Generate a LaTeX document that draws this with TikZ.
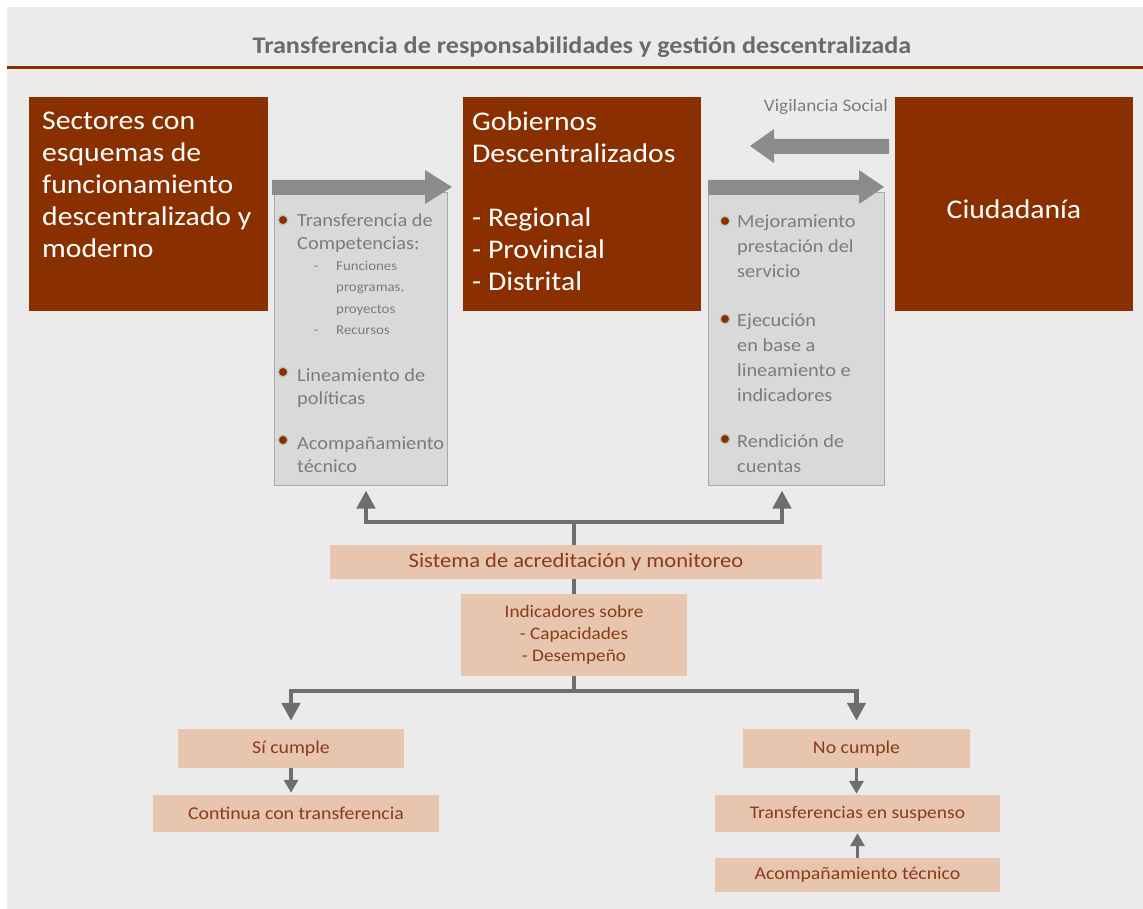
\documentclass[tikz,border=0pt]{standalone}
\usepackage{fontspec}
\setmainfont[FakeStretch=1.1]{Carlito}
\newfontfamily\titlefont[FakeStretch=1.1]{Carlito}
\usetikzlibrary{arrows.meta}
\definecolor{brn}{HTML}{8A2F00}
\definecolor{peach}{HTML}{E8C5AE}
\definecolor{peachtxt}{HTML}{8B3A1A}
\definecolor{bgc}{HTML}{EBEBEB}
\definecolor{gbox}{HTML}{D9D9D9}
\definecolor{gboxline}{HTML}{A8A8A8}
\definecolor{garrow}{HTML}{8C8C8C}
\definecolor{conncol}{HTML}{6E6E6E}
\definecolor{gtxt}{HTML}{7C7C7C}
\definecolor{titlecol}{HTML}{6A6A6A}
\tikzset{
  brownbox/.style={fill=brn, draw=none, inner sep=0pt},
  graybox/.style={fill=gbox, draw=gboxline, line width=1pt, inner sep=0pt},
  peachbox/.style={fill=peach, draw=none, inner sep=0pt, text=peachtxt},
  bigtxt/.style={text=white, align=left, inner sep=0pt, font=\fontsize{27}{32}\selectfont},
  itemtxt/.style={text=gtxt, align=left, inner sep=0pt, anchor=north west},
  bulletdot/.style={circle, fill=brn, draw=gray!50, line width=1.2pt, minimum size=9.5pt, inner sep=0pt},
  conn/.style={draw=conncol, line width=4.5pt},
  connarrow/.style={conn, -{Triangle[width=18pt,length=18pt]}},
  smallarrow/.style={draw=conncol, line width=3.5pt, -{Triangle[width=14pt,length=13pt]}},
  bigarrowshape/.style={fill=garrow, draw=none}
}
\begin{document}
\begin{tikzpicture}[x=1pt,y=-1pt]
\useasboundingbox (0,0) rectangle (1143,909);
\fill[white] (0,0) rectangle (1143,909);
\fill[bgc] (7,7) rectangle (1143,909);

% title
\node[text=titlecol, font=\titlefont\bfseries\fontsize{23.8}{26}\selectfont, inner sep=0pt] (title) at (582,47) {Transferencia de responsabilidades y gestión descentralizada};
\fill[brn] (7,66.5) rectangle (1143,69.5);

% brown boxes
\node[brownbox, minimum width=239pt, minimum height=214pt] (sec) at (148.5,204) {};
\node[brownbox, minimum width=238pt, minimum height=214pt] (gob) at (582,204) {};
\node[brownbox, minimum width=238pt, minimum height=214pt] (ciu) at (1014,204) {};

\node[bigtxt, anchor=north west] (sectxt) at (42,112) {Sectores con\\esquemas de\\funcionamiento\\descentralizado y\\moderno};
\node[bigtxt, anchor=north west] (gobtxt) at (472,112) {Gobiernos\\Descentralizados\\[32pt]- Regional\\- Provincial\\- Distrital};
\node[text=white, inner sep=0pt, font=\fontsize{27}{32}\selectfont] (ciutxt) at (1014,209) {Ciudadanía};

% gray boxes
\node[graybox, minimum width=173pt, minimum height=292pt] (g1) at (360.5,339) {};
\node[graybox, minimum width=176pt, minimum height=292pt] (g2) at (796,339) {};

% big gray arrows
\path[bigarrowshape] (272,180) -- (425,180) -- (425,170) -- (452,187) -- (425,204) -- (425,195) -- (272,195) -- cycle;
\path[bigarrowshape] (708,180) -- (859,180) -- (859,170) -- (884,187) -- (859,204) -- (859,195) -- (708,195) -- cycle;
\path[bigarrowshape] (889,139) -- (774,139) -- (774,129) -- (750,146) -- (774,163) -- (774,154) -- (889,154) -- cycle;
\node[text=gtxt, anchor=east, inner sep=0pt, font=\fontsize{17.5}{20}\selectfont] (vig) at (888,107) {Vigilancia Social};

% items box 1
\node[bulletdot] (b11) at (283,220) {};
\node[itemtxt, font=\fontsize{18.5}{23}\selectfont] (t11) at (297,213.5) {Transferencia de\\Competencias:};
\node[itemtxt, font=\fontsize{13.5}{21.5}\selectfont] (t11s) at (314,261) {\makebox[22pt][l]{-}Funciones\\\makebox[22pt][l]{}programas,\\\makebox[22pt][l]{}proyectos\\\makebox[22pt][l]{-}Recursos};
\node[bulletdot] (b12) at (283,372) {};
\node[itemtxt, font=\fontsize{18.5}{23}\selectfont] (t12) at (297,368.5) {Lineamiento de\\políticas};
\node[bulletdot] (b13) at (283,440) {};
\node[itemtxt, font=\fontsize{18.5}{23}\selectfont] (t13) at (297,436.5) {Acompañamiento\\técnico};

% items box 2
\node[bulletdot] (b21) at (725,221) {};
\node[itemtxt, font=\fontsize{18.5}{25}\selectfont] (t21) at (737,214.5) {Mejoramiento\\prestación del\\servicio};
\node[bulletdot] (b22) at (725,319) {};
\node[itemtxt, font=\fontsize{18.5}{25}\selectfont] (t22) at (737,313.5) {Ejecución\\en base a\\lineamiento e\\indicadores};
\node[bulletdot] (b23) at (725,439) {};
\node[itemtxt, font=\fontsize{18.5}{25}\selectfont] (t23) at (737,434.5) {Rendición de\\cuentas};

% peach boxes
\node[peachbox, minimum width=492pt, minimum height=34pt, font=\fontsize{20.5}{22}\selectfont] (sis) at (576,562) {Sistema de acreditación y monitoreo};
\node[peachbox, minimum width=226pt, minimum height=82pt, align=center, font=\fontsize{17.5}{22}\selectfont] (ind) at (574,635) {Indicadores sobre\\- Capacidades\\- Desempeño};
\node[peachbox, minimum width=226pt, minimum height=39pt, font=\fontsize{18}{20}\selectfont] (si) at (291,748.5) {Sí cumple};
\node[peachbox, minimum width=286pt, minimum height=37pt, font=\fontsize{18}{20}\selectfont] (con) at (296,813.5) {Continua con transferencia};
\node[peachbox, minimum width=227pt, minimum height=39pt, font=\fontsize{18}{20}\selectfont] (no) at (856.5,748.5) {No cumple};
\node[peachbox, minimum width=285pt, minimum height=37pt, font=\fontsize{17.7}{20}\selectfont] (tra) at (857.5,813.5) {Transferencias en suspenso};
\node[peachbox, minimum width=285pt, minimum height=34pt, font=\fontsize{18}{20}\selectfont] (aco) at (857.5,875) {Acompañamiento técnico};

% connectors
\coordinate (busU) at (574,522);
\coordinate (busD) at (574,691);
\draw[conn] (sis.north -| busU) -- (busU);
\draw[connarrow, shorten >=5pt] (busU) -| ([xshift=5.5pt]g1.south);
\draw[connarrow, shorten >=5pt] (busU) -| ([xshift=-14pt]g2.south);
\draw[conn] (ind.north) -- (ind.north |- sis.south);
\draw[conn] (ind.south) -- (busD);
\draw[connarrow, shorten >=8pt] (busD) -| (si.north);
\draw[connarrow, shorten >=8pt] (busD) -| (no.north);
\draw[smallarrow, shorten >=2pt] (si.south) -- (si.south |- con.north);
\draw[smallarrow, shorten >=1pt] (no.south) -- (no.south |- tra.north);
\draw[smallarrow, shorten >=1pt] (aco.north) -- (aco.north |- tra.south);
\end{tikzpicture}
\end{document}
